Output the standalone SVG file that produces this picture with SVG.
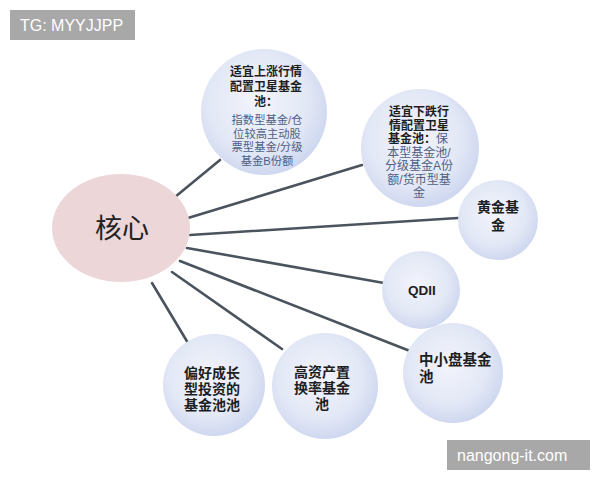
<svg xmlns="http://www.w3.org/2000/svg" width="600" height="480" viewBox="0 0 600 480">
<defs>
<radialGradient id="blue" cx="0.45" cy="0.42" r="0.6">
<stop offset="0" stop-color="#f2f4fc"/>
<stop offset="0.65" stop-color="#e3e8f6"/>
<stop offset="1" stop-color="#cdd6ef"/>
</radialGradient>
</defs>
<style>
.conn{stroke:#4b545e;stroke-width:2.6;stroke-linecap:round;fill:none}
.bub{fill:url(#blue)}
.t{font-family:"Liberation Sans","Noto Sans CJK SC",sans-serif;fill:#1e1e1e;font-weight:bold;text-anchor:middle}
.b{font-family:"Liberation Sans","Noto Sans CJK SC",sans-serif;fill:#4f5f86;text-anchor:middle}
.wm{font-family:"Liberation Sans","DejaVu Sans",sans-serif;fill:#ffffff;font-size:16px}
</style>
<rect width="600" height="480" fill="#ffffff"/>
<g id="connectors">
<line class="conn" x1="175" y1="197" x2="220" y2="160"/>
<line class="conn" x1="188" y1="218" x2="362" y2="165"/>
<line class="conn" x1="190" y1="235" x2="458" y2="218"/>
<line class="conn" x1="187" y1="248" x2="384" y2="283"/>
<line class="conn" x1="180" y1="261" x2="410" y2="351"/>
<line class="conn" x1="172" y1="272" x2="282" y2="349"/>
<line class="conn" x1="152" y1="283" x2="188" y2="343"/>
</g>
<g id="core">
<ellipse cx="121" cy="228" rx="69" ry="54" fill="#ecd6d8"/>
<text x="122" y="238" font-family="Noto Sans CJK SC,sans-serif" font-size="27" fill="#222" text-anchor="middle">核心</text>
</g>
<g id="node-up">
<circle class="bub" cx="264" cy="112" r="63"/>
<text class="t" font-size="12"><tspan x="266" y="76">适宜上涨行情</tspan><tspan x="266" y="91">配置卫星基金</tspan><tspan x="266" y="106">池：</tspan></text>
<text class="b" font-size="11.3"><tspan x="267" y="124">指数型基金/仓</tspan><tspan x="267" y="137.5">位较高主动股</tspan><tspan x="267" y="151">票型基金/分级</tspan><tspan x="267" y="164.5">基金B份额</tspan></text>
</g>
<g id="node-down">
<circle class="bub" cx="420" cy="148" r="59"/>
<text font-size="12"><tspan class="t" x="419" y="116">适宜下跌行</tspan><tspan class="t" x="419" y="129.5">情配置卫星</tspan><tspan x="419" y="143"><tspan class="t" style="text-anchor:start" x="388">基金池：</tspan><tspan class="b" style="text-anchor:start">保</tspan></tspan></text>
<text class="b" font-size="12"><tspan x="419" y="156.5">本型基金池/</tspan><tspan x="419" y="170">分级基金A份</tspan><tspan x="419" y="183.5">额/货币型基</tspan><tspan x="419" y="197">金</tspan></text>
</g>
<g id="node-gold">
<circle class="bub" cx="498" cy="220" r="40"/>
<text class="t" font-size="14"><tspan x="498" y="212">黄金基</tspan><tspan x="498" y="230">金</tspan></text>
</g>
<g id="node-qdii">
<circle class="bub" cx="421" cy="290" r="39"/>
<text class="t" x="422" y="295" font-size="13.5" font-family="Open Sans,sans-serif">QDII</text>
</g>
<g id="node-small">
<circle class="bub" cx="453" cy="373" r="50"/>
<text class="t" font-size="14.5" style="text-anchor:start"><tspan x="419" y="365">中小盘基金</tspan><tspan x="419" y="382">池</tspan></text>
</g>
<g id="node-growth">
<circle class="bub" cx="214" cy="385" r="51"/>
<text class="t" font-size="14"><tspan x="212" y="378">偏好成长</tspan><tspan x="212" y="394">型投资的</tspan><tspan x="212" y="410">基金池池</tspan></text>
</g>
<g id="node-asset">
<circle class="bub" cx="325" cy="386" r="53"/>
<text class="t" font-size="14"><tspan x="322" y="377">高资产置</tspan><tspan x="322" y="393">换率基金</tspan><tspan x="322" y="409">池</tspan></text>
</g>
<g id="wm-top">
<rect x="10" y="10" width="125" height="30" fill="#a8a8a8"/>
<text class="wm" x="20" y="31">TG: MYYJJPP</text>
</g>
<g id="wm-bottom">
<rect x="447" y="440" width="143" height="30" fill="#a8a8a8"/>
<text class="wm" x="457" y="461">nangong-it.com</text>
</g>
</svg>
